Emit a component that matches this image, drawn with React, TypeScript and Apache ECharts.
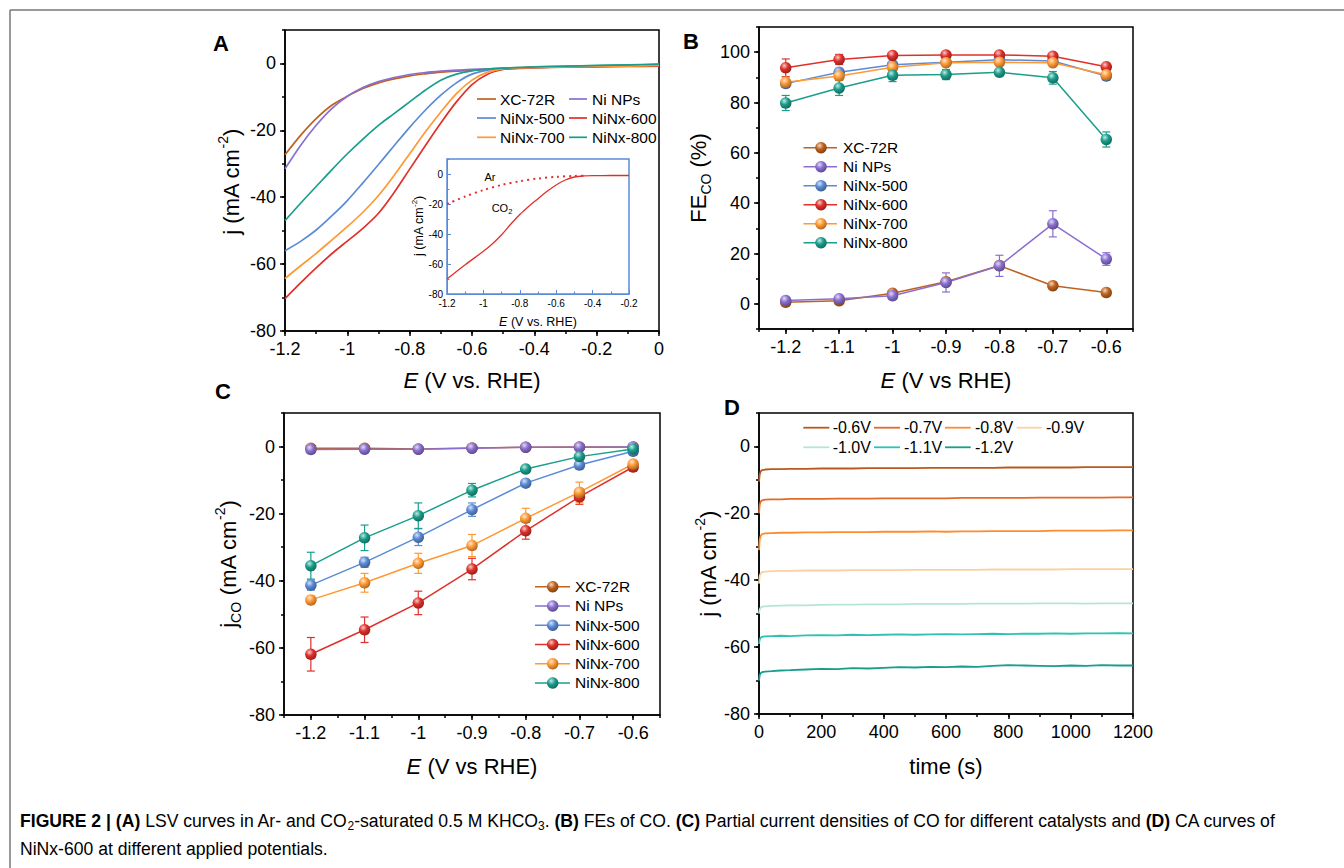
import React, { useEffect, useRef } from 'react';
import * as echarts from 'echarts';

const FONT = '"Liberation Sans", Arial, Helvetica, sans-serif';

// ---------- Panel A: LSV ----------
const A_X = [-1.2, -1.15, -1.1, -1.05, -1.0, -0.95, -0.9, -0.85, -0.8, -0.75, -0.7, -0.65, -0.6, -0.55, -0.5, -0.45, -0.4, -0.3, -0.2, -0.1, 0];
const A_XC72R = [-27.3, -21.5, -16.5, -12.5, -9.8, -7.5, -5.8, -4.6, -3.7, -3.1, -2.6, -2.3, -2.0, -1.8, -1.6, -1.5, -1.3, -1.1, -0.9, -0.7, -0.5];
const A_NINP = [-31.5, -24.5, -18.5, -13.5, -9.8, -7.2, -5.4, -4.2, -3.3, -2.7, -2.3, -2.0, -1.8, -1.6, -1.4, -1.3, -1.2, -1.0, -0.8, -0.6, -0.4];
const A_500 = [-56, -53.2, -49.8, -45.6, -41, -35.7, -30.2, -24.6, -19.1, -14, -9.5, -5.8, -3.2, -2.0, -1.5, -1.3, -1.1, -0.9, -0.7, -0.5, -0.3];
const A_600 = [-70.3, -65.6, -61.1, -56.9, -53.1, -49.3, -44.8, -38.6, -31.6, -24.6, -17.8, -11.5, -6.3, -3.2, -1.8, -1.4, -1.2, -1.1, -1.0, -0.9, -0.8];
const A_700 = [-64.3, -60.5, -56.8, -52.8, -48.8, -44.5, -39.5, -33.5, -27, -20.5, -14.5, -9, -5, -2.6, -1.6, -1.3, -1.2, -1.0, -0.9, -0.8, -0.6];
const A_800 = [-47, -41.8, -36.8, -31.8, -27, -22.6, -18.5, -15, -11.5, -8, -5, -3.2, -2.2, -1.7, -1.4, -1.2, -1.0, -0.8, -0.6, -0.4, -0.2];

// inset
const IN_X = [-1.2, -1.1, -1.0, -0.95, -0.9, -0.85, -0.8, -0.75, -0.7, -0.65, -0.6, -0.55, -0.5, -0.45, -0.4, -0.3, -0.2];
const IN_CO2 = [-70, -60.5, -51.5, -46.5, -40.5, -33.5, -27, -21.5, -16.5, -11.5, -7.3, -4, -2, -1.3, -1.1, -1.0, -1.0];
const IN_AR_X = [-1.2, -1.1, -1.0, -0.9, -0.8, -0.7, -0.6, -0.5, -0.45];
const IN_AR = [-20, -15, -10.7, -7.3, -4.8, -3, -1.9, -1.3, -1.1];

// ---------- Panels B & C ----------
const E_X = [-1.2, -1.1, -1.0, -0.9, -0.8, -0.7, -0.6];
const NAMES = ['XC-72R', 'Ni NPs', 'NiNx-500', 'NiNx-600', 'NiNx-700', 'NiNx-800'];
const COLORS = ['#c0621c', '#8a6fd1', '#5b8bd6', '#e0302a', '#ff9933', '#1a9e8c'];

const FE_VALUES = [
  [0.6, 1.2, 4.2, 8.8, 15.2, 7.2, 4.5],
  [1.3, 2.0, 3.2, 8.5, 15.1, 31.8, 17.8],
  [87.5, 92, 95, 96, 97, 96.5, 90.5],
  [93.8, 97.1, 98.7, 98.9, 98.9, 98.4, 94.2],
  [88, 90.5, 94, 95.8, 96, 95.8, 91],
  [79.8, 85.8, 90.8, 91.1, 92, 89.8, 65.3],
];
const FE_ERR = [
  [0.5, 0.6, 0.8, 1.5, 1.5, 1.5, 0.8],
  [0.8, 0.8, 1.0, 3.8, 4.2, 5.2, 2.5],
  [1.5, 1.5, 1.0, 1.0, 1.0, 1.0, 1.0],
  [3.5, 2.0, 1.0, 0.8, 0.8, 0.8, 1.0],
  [2.0, 1.5, 1.5, 1.0, 1.0, 1.0, 1.0],
  [3.0, 3.0, 2.5, 2.0, 1.0, 2.5, 3.0],
];

const JCO_VALUES = [
  [-0.5, -0.5, -0.7, -0.4, -0.2, -0.1, -0.1],
  [-0.9, -0.8, -0.8, -0.5, -0.2, -0.2, -0.1],
  [-41.3, -34.5, -27, -18.8, -10.9, -5.5, -1.4],
  [-61.9, -54.6, -46.6, -36.5, -25.1, -15, -6.1],
  [-45.7, -40.6, -34.8, -29.5, -21.4, -13.6, -5.2],
  [-35.5, -27.2, -20.6, -13, -6.7, -3, -0.7],
];
const JCO_ERR = [
  [0.2, 0.2, 0.2, 0.2, 0.2, 0.2, 0.2],
  [0.3, 0.3, 0.3, 0.3, 0.3, 0.3, 0.3],
  [1.5, 1.5, 2.5, 2.0, 1.0, 0.8, 0.5],
  [5.0, 3.8, 3.5, 3.2, 2.5, 2.2, 1.0],
  [1.2, 2.8, 3.0, 3.3, 3.0, 3.0, 1.0],
  [4.0, 3.8, 3.8, 2.0, 1.0, 0.8, 0.5],
];

// ---------- Panel D: CA ----------
const D_T = [0, 2, 5, 10, 20, 40, 70, 100, 150, 200, 250, 300, 350, 400, 450, 500, 550, 600, 650, 700, 750, 800, 850, 900, 950, 1000, 1050, 1100, 1150, 1200];
const D_NAMES = ['-0.6V', '-0.7V', '-0.8V', '-0.9V', '-1.0V', '-1.1V', '-1.2V'];
const D_COLORS = ['#b85a1e', '#e2692a', '#fd8c30', '#fcd0a5', '#b4e6d4', '#2dc2b3', '#179e8d'];
const D_VALUES = [
  [-10.5, -8.5, -7.5, -7.1, -6.9, -6.8, -6.8, -6.7, -6.7, -6.6, -6.6, -6.6, -6.5, -6.5, -6.5, -6.5, -6.4, -6.4, -6.4, -6.4, -6.4, -6.3, -6.3, -6.3, -6.3, -6.3, -6.2, -6.2, -6.2, -6.2],
  [-20, -17.5, -16.5, -16.1, -15.9, -15.8, -15.8, -15.7, -15.7, -15.7, -15.6, -15.6, -15.6, -15.5, -15.5, -15.5, -15.5, -15.5, -15.4, -15.4, -15.4, -15.4, -15.4, -15.3, -15.3, -15.3, -15.3, -15.3, -15.2, -15.2],
  [-31, -28, -26.8, -26.2, -26.0, -25.9, -25.8, -25.8, -25.7, -25.7, -25.6, -25.6, -25.6, -25.5, -25.5, -25.5, -25.4, -25.5, -25.4, -25.4, -25.3, -25.3, -25.3, -25.3, -25.2, -25.2, -25.2, -25.2, -25.1, -25.1],
  [-41, -38.8, -38, -37.6, -37.4, -37.3, -37.2, -37.2, -37.1, -37.1, -37.1, -37.0, -37.0, -37.0, -37.0, -36.9, -36.9, -36.9, -36.9, -36.9, -36.8, -36.8, -36.8, -36.8, -36.8, -36.7, -36.7, -36.7, -36.7, -36.7],
  [-50, -48.8, -48.2, -47.9, -47.8, -47.7, -47.6, -47.5, -47.5, -47.4, -47.3, -47.3, -47.2, -47.2, -47.2, -47.1, -47.1, -47.1, -47.1, -47.0, -47.0, -47.0, -47.0, -46.9, -46.9, -46.9, -47.0, -46.9, -46.9, -46.9],
  [-59, -57.8, -57.2, -56.9, -56.8, -56.7, -56.6, -56.7, -56.5, -56.4, -56.5, -56.3, -56.4, -56.3, -56.2, -56.3, -56.2, -56.1, -56.2, -56.1, -56.0, -56.1, -56.0, -56.0, -55.9, -56.0, -55.9, -55.9, -55.8, -55.9],
  [-70, -68.5, -67.8, -67.5, -67.3, -67.2, -67.0, -66.9, -66.7, -66.5, -66.6, -66.3, -66.4, -66.2, -66.0, -66.1, -65.9, -66.0, -65.8, -65.9, -65.6, -65.4, -65.5, -65.6, -65.7, -65.5, -65.6, -65.4, -65.5, -65.5],
];

// tick label lists
const A_XTICKS = [-1.2, -1.0, -0.8, -0.6, -0.4, -0.2, 0];
const J_YTICKS = [-80, -60, -40, -20, 0];
const E_XTICKS = [-1.2, -1.1, -1.0, -0.9, -0.8, -0.7, -0.6];
const FE_YTICKS = [0, 20, 40, 60, 80, 100];
const IN_XTICKS = [-1.2, -1.0, -0.8, -0.6, -0.4, -0.2];
const T_XTICKS = [0, 200, 400, 600, 800, 1000, 1200];

// ---------- helpers ----------
function hexToRgb(h: string) {
  const v = parseInt(h.slice(1), 16);
  return [(v >> 16) & 255, (v >> 8) & 255, v & 255];
}
function mix(h: string, t: string, a: number) {
  const c1 = hexToRgb(h), c2 = hexToRgb(t);
  const r = c1.map((c, i) => Math.round(c + (c2[i] - c) * a));
  return `rgb(${r[0]},${r[1]},${r[2]})`;
}
function ball(color: string) {
  return new echarts.graphic.RadialGradient(0.38, 0.32, 0.72, [
    { offset: 0, color: mix(color, '#ffffff', 0.75) },
    { offset: 0.45, color: color },
    { offset: 1, color: mix(color, '#000000', 0.35) },
  ]);
}

type AxOpt = { color: string; inside: boolean; fontSize: number; margin: number; majorLen: number; minorLen: number; lw: number };
const MAIN_AX: AxOpt = { color: '#000', inside: false, fontSize: 18, margin: 9, majorLen: 5, minorLen: 3, lw: 1.5 };
const INSET_AX: AxOpt = { color: '#5b8bd6', inside: true, fontSize: 10, margin: 4, majorLen: 4, minorLen: 2.5, lw: 1 };

function axisPair(kind: 'x' | 'y', gridIndex: number, min: number, max: number, majors: number[], minorInt: number, o: AxOpt) {
  const position = kind === 'x' ? 'bottom' : 'left';
  const major = {
    type: 'value', gridIndex, min, max, position,
    axisLine: { show: true, onZero: false, lineStyle: { color: o.color, width: o.lw } },
    axisTick: { show: true, inside: o.inside, length: o.majorLen, customValues: majors, lineStyle: { color: o.color, width: o.lw } },
    axisLabel: {
      show: true, customValues: majors, fontSize: o.fontSize, fontFamily: FONT, color: '#000', margin: o.margin,
      formatter: (v: number) => String(Math.round(v * 1000) / 1000),
    },
    splitLine: { show: false },
    minorTick: { show: false },
  };
  const minor = {
    type: 'value', gridIndex, min, max, interval: minorInt, position,
    axisLine: { show: false, onZero: false },
    axisTick: { show: true, inside: o.inside, length: o.minorLen, lineStyle: { color: o.color, width: o.lw } },
    axisLabel: { show: false },
    splitLine: { show: false },
  };
  return [major, minor];
}

function pairs(xs: number[], ys: number[]) {
  return xs.map((x, i) => [x, ys[i]]);
}

function errSeries(ai: number, ys: number[], es: number[], color: string) {
  return {
    type: 'custom', xAxisIndex: ai, yAxisIndex: ai, z: 3, silent: true,
    data: E_X.map((x, i) => [x, ys[i], es[i]]),
    encode: { x: 0, y: 1 },
    renderItem: (params: any, api: any) => {
      const x = api.value(0), y = api.value(1), e = api.value(2);
      const p1 = api.coord([x, y + e]);
      const p2 = api.coord([x, y - e]);
      const hw = 4;
      const st = { stroke: color, lineWidth: 1.2 };
      return {
        type: 'group',
        children: [
          { type: 'line', shape: { x1: p1[0], y1: p1[1], x2: p2[0], y2: p2[1] }, style: st },
          { type: 'line', shape: { x1: p1[0] - hw, y1: p1[1], x2: p1[0] + hw, y2: p1[1] }, style: st },
          { type: 'line', shape: { x1: p2[0] - hw, y1: p2[1], x2: p2[0] + hw, y2: p2[1] }, style: st },
        ],
      };
    },
  };
}

const RICH = {
  n: { fontSize: 22, fontFamily: FONT, color: '#000', lineHeight: 30, verticalAlign: 'middle' },
  i: { fontSize: 22, fontFamily: FONT, fontStyle: 'italic', color: '#000', lineHeight: 30, verticalAlign: 'middle' },
  sub: { fontSize: 14, fontFamily: FONT, color: '#000', lineHeight: 14, verticalAlign: 'bottom' },
  sup: { fontSize: 14, fontFamily: FONT, color: '#000', lineHeight: 14, verticalAlign: 'top' },
};
const RICH_SMALL = {
  n: { fontSize: 12.5, fontFamily: FONT, color: '#111', lineHeight: 17, verticalAlign: 'middle' },
  i: { fontSize: 12.5, fontFamily: FONT, fontStyle: 'italic', color: '#111', lineHeight: 17, verticalAlign: 'middle' },
  sub: { fontSize: 8, fontFamily: FONT, color: '#111', lineHeight: 8, verticalAlign: 'bottom' },
  sup: { fontSize: 8, fontFamily: FONT, color: '#111', lineHeight: 8, verticalAlign: 'top' },
};
const RICH_CAP = {
  n: { fontSize: 17.6, fontFamily: FONT, color: '#231f20', lineHeight: 22, verticalAlign: 'middle' },
  b: { fontSize: 17.6, fontFamily: FONT, fontWeight: 'bold', color: '#231f20', lineHeight: 22, verticalAlign: 'middle' },
  s: { fontSize: 12, fontFamily: FONT, color: '#231f20', lineHeight: 12, verticalAlign: 'bottom' },
};

function richText(x: number, y: number, text: string, rich: any, rotate = false) {
  return {
    type: 'text', x, y, rotation: rotate ? Math.PI / 2 : 0,
    style: { text, rich, align: 'center', verticalAlign: 'middle', fontFamily: FONT },
  };
}
function plainText(x: number, y: number, text: string, size: number, align = 'left', weight = 'normal') {
  return {
    type: 'text', x, y,
    style: { text, fontSize: size, fontFamily: FONT, fontWeight: weight, fill: '#000', align, verticalAlign: 'middle' },
  };
}
function hline(x1: number, x2: number, y: number, color: string, w = 1.5) {
  return { type: 'line', shape: { x1, y1: y, x2, y2: y }, style: { stroke: color, lineWidth: w } };
}

function buildOption() {
  const grids = [
    { left: 285, top: 30, width: 374, height: 301 },
    { left: 447, top: 159, width: 182, height: 135 },
    { left: 759, top: 27, width: 374, height: 302 },
    { left: 284, top: 413, width: 376, height: 302 },
    { left: 759, top: 413, width: 374, height: 301 },
  ].map((g, i) => ({
    ...g, show: true, borderColor: i === 1 ? '#5b8bd6' : '#000', borderWidth: 1.5,
    backgroundColor: i === 1 ? '#fff' : 'transparent', containLabel: false,
  }));

  const xAxis = [
    ...axisPair('x', 0, -1.2, 0, A_XTICKS, 0.1, MAIN_AX),
    ...axisPair('x', 1, -1.2, -0.2, IN_XTICKS, 0.1, INSET_AX),
    ...axisPair('x', 2, -1.25, -0.55, E_XTICKS, 0.05, MAIN_AX),
    ...axisPair('x', 3, -1.25, -0.55, E_XTICKS, 0.05, MAIN_AX),
    ...axisPair('x', 4, 0, 1200, T_XTICKS, 100, MAIN_AX),
  ];
  const yAxis = [
    ...axisPair('y', 0, -80, 10, J_YTICKS, 10, MAIN_AX),
    ...axisPair('y', 1, -80, 10, J_YTICKS, 10, INSET_AX),
    ...axisPair('y', 2, -10, 110, FE_YTICKS, 10, MAIN_AX),
    ...axisPair('y', 3, -80, 10, J_YTICKS, 10, MAIN_AX),
    ...axisPair('y', 4, -80, 10, J_YTICKS, 10, MAIN_AX),
  ];

  const series: any[] = [];
  const aSets = [A_XC72R, A_NINP, A_500, A_600, A_700, A_800];
  aSets.forEach((ys, i) => {
    series.push({
      type: 'line', name: NAMES[i], xAxisIndex: 0, yAxisIndex: 0, data: pairs(A_X, ys),
      symbol: 'none', smooth: 0.3, lineStyle: { color: COLORS[i], width: 1.7 }, z: 2,
    });
  });
  series.push({
    type: 'line', name: 'CO2', xAxisIndex: 2, yAxisIndex: 2, data: pairs(IN_X, IN_CO2),
    symbol: 'none', smooth: 0.3, lineStyle: { color: '#e0302a', width: 1.3 }, z: 5,
  });
  series.push({
    type: 'line', name: 'Ar', xAxisIndex: 2, yAxisIndex: 2, data: pairs(IN_AR_X, IN_AR),
    symbol: 'none', smooth: 0.3, lineStyle: { color: '#e0302a', width: 2, type: [2, 4] }, z: 5,
  });

  const drawPoints = (ai: number, vals: number[][], errs: number[][]) => {
    vals.forEach((ys, i) => {
      series.push(errSeries(ai, ys, errs[i], COLORS[i]));
    });
    vals.forEach((ys, i) => {
      series.push({
        type: 'line', name: NAMES[i], xAxisIndex: ai, yAxisIndex: ai, data: pairs(E_X, ys),
        symbol: 'circle', symbolSize: 11.5, showAllSymbol: true,
        lineStyle: { color: COLORS[i], width: 1.5 }, itemStyle: { color: ball(COLORS[i]) }, z: 4,
      });
    });
  };
  drawPoints(4, FE_VALUES, FE_ERR);
  drawPoints(6, JCO_VALUES, JCO_ERR);

  D_VALUES.forEach((ys, i) => {
    series.push({
      type: 'line', name: D_NAMES[i], xAxisIndex: 8, yAxisIndex: 8, data: pairs(D_T, ys),
      symbol: 'none', lineStyle: { color: D_COLORS[i], width: 1.8 }, z: 2,
    });
  });

  const g: any[] = [];
  // frame
  g.push({ type: 'line', shape: { x1: 10, y1: 10, x2: 1344, y2: 10 }, style: { stroke: '#777', lineWidth: 1.5 } });
  g.push({ type: 'line', shape: { x1: 10, y1: 10, x2: 10, y2: 868 }, style: { stroke: '#777', lineWidth: 1.5 } });

  // panel letters
  g.push(plainText(221, 43, 'A', 22, 'center', 'bold'));
  g.push(plainText(691, 41, 'B', 22, 'center', 'bold'));
  g.push(plainText(223, 391, 'C', 22, 'center', 'bold'));
  g.push(plainText(732, 407, 'D', 22, 'center', 'bold'));

  // axis names
  g.push(richText(472, 380, '{i|E }{n|(V vs. RHE)}', RICH));
  g.push(richText(231, 182, '{n|j (mA cm}{sup|-2}{n|)}', RICH, true));
  g.push(richText(946, 380, '{i|E }{n|(V vs RHE)}', RICH));
  g.push(richText(698, 178, '{n|FE}{sub|CO}{n| }{n|(%)}', RICH, true));
  g.push(richText(472, 766, '{i|E }{n|(V vs RHE)}', RICH));
  g.push(richText(228, 564, '{n|j}{sub|CO}{n| }{n|(mA cm}{sup|-2}{n|)}', RICH, true));
  g.push(richText(946, 766, '{n|time (s)}', RICH));
  g.push(richText(708, 564, '{n|j (mA cm}{sup|-2}{n|)}', RICH, true));

  // inset labels
  g.push(richText(538, 322, '{i|E }{n|(V vs. RHE)}', RICH_SMALL));
  g.push(richText(419, 226, '{n|j (mA cm}{sup|-2}{n|)}', RICH_SMALL, true));
  g.push(plainText(490, 177, 'Ar', 11, 'center'));
  g.push(richText(502, 208, '{n|CO}{sub|2}', {
    n: { fontSize: 11, fontFamily: FONT, color: '#111', lineHeight: 15, verticalAlign: 'middle' },
    sub: { fontSize: 7.5, fontFamily: FONT, color: '#111', lineHeight: 7.5, verticalAlign: 'bottom' },
  }));

  // legend A (two columns, lines only)
  const aLeg = [
    [0, 477, 496, 500, 99], [1, 569, 587, 592, 99],
    [2, 477, 496, 500, 118], [3, 569, 587, 592, 118],
    [4, 477, 496, 500, 137.3], [5, 569, 587, 592, 137.3],
  ];
  aLeg.forEach(([i, x1, x2, tx, y]) => {
    g.push(hline(x1, x2, y, COLORS[i], 1.7));
    g.push(plainText(tx, y, NAMES[i], 15.5));
  });

  // legend B and C (line + ball)
  const ballLegend = (x1: number, x2: number, mx: number, tx: number, y0: number, dy: number) => {
    NAMES.forEach((nm, i) => {
      const y = y0 + dy * i;
      g.push(hline(x1, x2, y, COLORS[i], 1.5));
      g.push({ type: 'circle', shape: { cx: mx, cy: y, r: 5.75 }, style: { fill: ball(COLORS[i]) } });
      g.push(plainText(tx, y, nm, 15.5));
    });
  };
  ballLegend(803.5, 837, 821, 843, 147.7, 19);
  ballLegend(535, 570, 552.7, 575, 586.7, 19.25);

  // legend D
  const dPos = [[803.3, 829.3, 832.7], [874, 900, 904], [945, 970.7, 975], [1016.7, 1041.7, 1046]];
  D_NAMES.forEach((nm, i) => {
    const row = i < 4 ? 0 : 1;
    const col = i < 4 ? i : i - 4;
    const y = row === 0 ? 427.7 : 447.3;
    const p = dPos[col];
    g.push(hline(p[0], p[1], y, D_COLORS[i], 1.8));
    g.push(plainText(p[2], y, nm, 16));
  });

  // caption
  g.push({
    type: 'text', x: 20, y: 821,
    style: {
      text: '{b|FIGURE 2 | (A) }{n|LSV curves in Ar- and CO}{s|2}{n|-saturated 0.5 M KHCO}{s|3}{n|. }{b|(B) }{n|FEs of CO. }{b|(C) }{n|Partial current densities of CO for different catalysts and }{b|(D) }{n|CA curves of}',
      rich: RICH_CAP, align: 'left', verticalAlign: 'middle', fontFamily: FONT,
    },
  });
  g.push({
    type: 'text', x: 20, y: 849,
    style: { text: '{n|NiNx-600 at different applied potentials.}', rich: RICH_CAP, align: 'left', verticalAlign: 'middle', fontFamily: FONT },
  });

  return {
    animation: false,
    backgroundColor: '#fff',
    grid: grids,
    xAxis,
    yAxis,
    series,
    graphic: { elements: g.map((e) => ({ ...e, z: 100 })) },
  };
}

export default function App() {
  const ref = useRef<HTMLDivElement>(null);
  useEffect(() => {
    document.body.style.margin = '0';
    const chart = echarts.init(ref.current as HTMLDivElement, null, { renderer: 'svg' });
    chart.setOption(buildOption() as any);
    return () => chart.dispose();
  }, []);
  return <div ref={ref} style={{ position: 'absolute', left: 0, top: 0, width: 1344, height: 868, background: '#fff' }} />;
}
